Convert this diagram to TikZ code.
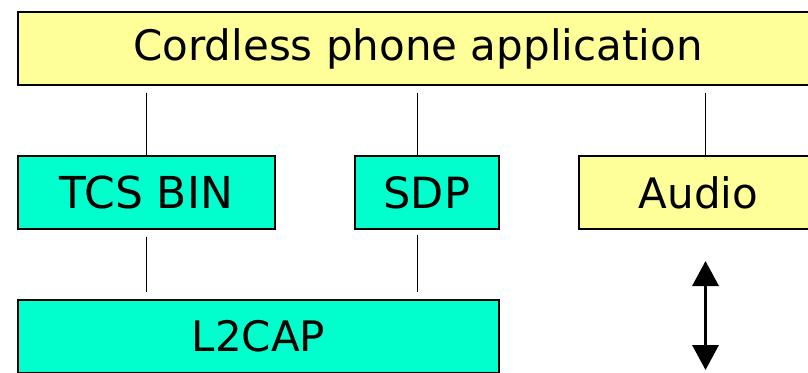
\documentclass[tikz,border=0pt]{standalone}
\usepackage{fontspec}
\setmainfont{DejaVu Sans}
\usetikzlibrary{arrows.meta}
\definecolor{appyellow}{RGB}{255,255,153}
\definecolor{stackcyan}{RGB}{0,255,204}
\tikzset{
  layerbox/.style={draw=black, line width=2pt, anchor=north west, inner sep=0pt,
    minimum height=73pt, font=\fontsize{42}{50}\selectfont},
  yellowbox/.style={layerbox, fill=appyellow},
  cyanbox/.style={layerbox, fill=stackcyan},
  link/.style={draw=black, line width=1.6pt},
  audioflow/.style={draw=black, line width=3.5pt, {Triangle[width=26pt,length=25pt]}-{Triangle[width=26pt,length=25pt]}}
}
\begin{document}
\begin{tikzpicture}[x=1pt,y=-1pt]
  \useasboundingbox (0,0) rectangle (808,372);
  \fill[white] (0,0) rectangle (808,372);

  % application layer
  \node[yellowbox, minimum width=800pt] (app) at (17,11) {Cordless phone application};

  % middle layer
  \node[cyanbox, minimum width=257pt, font=\fontsize{44}{50}\selectfont] (tcs) at (17,155) {TCS BIN};
  \node[cyanbox, minimum width=144.5pt, font=\fontsize{43}{50}\selectfont] (sdp) at (353.5,155) {SDP};
  \node[yellowbox, minimum width=240pt] (audio) at (577.6,155) {Audio};

  % transport layer
  \node[cyanbox, minimum width=481pt] (l2cap) at (17,298.5) {L2CAP};

  % connectors between layers
  \coordinate (sdpTop) at (417.4,155);
  \coordinate (sdpBot) at (417.4,228);
  \coordinate (audioTop) at (705.5,155);
  \draw[link, shorten <=6.5pt] (tcs.north |- app.south) -- (tcs.north);
  \draw[link, shorten <=6.5pt] (sdpTop |- app.south) -- (sdpTop);
  \draw[link, shorten <=6.5pt] (audioTop |- app.south) -- (audioTop);
  \draw[link, shorten <=6.5pt, shorten >=6.5pt] (tcs.south) -- (tcs.south |- l2cap.north);
  \draw[link, shorten <=6.5pt, shorten >=6.5pt] (sdpBot) -- (sdpBot |- l2cap.north);

  % audio path to the lower layers
  \coordinate (audioUp) at (705.5,261);
  \coordinate (audioDown) at (705.5,370);
  \draw[audioflow] (audioUp) -- (audioDown);
\end{tikzpicture}
\end{document}
